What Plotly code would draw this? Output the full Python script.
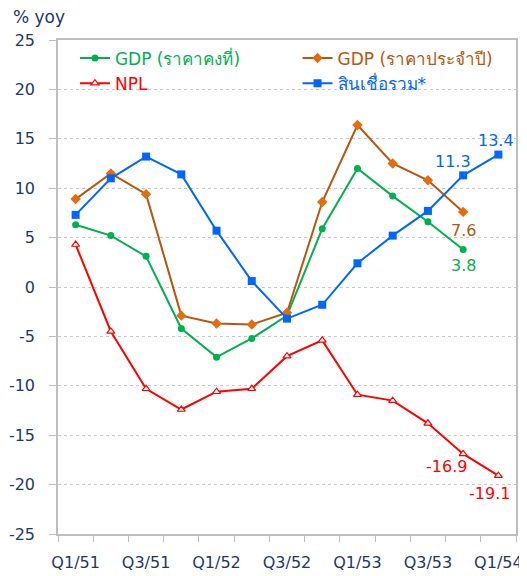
import plotly.graph_objects as go

quarters = ["Q1/51", "Q2/51", "Q3/51", "Q4/51", "Q1/52", "Q2/52", "Q3/52",
            "Q4/52", "Q1/53", "Q2/53", "Q3/53", "Q4/53", "Q1/54"]
gdp_real = [6.3, 5.2, 3.1, -4.2, -7.1, -5.2, -2.9, 5.9, 12.0, 9.2, 6.6, 3.8]
gdp_nominal = [8.9, 11.5, 9.4, -2.9, -3.7, -3.8, -2.6, 8.6, 16.4, 12.5, 10.8, 7.6]
npl = [4.3, -4.5, -10.3, -12.4, -10.6, -10.3, -7.0, -5.4, -10.9, -11.5, -13.8, -16.9, -19.1]
loans = [7.3, 11.0, 13.2, 11.4, 5.7, 0.6, -3.2, -1.8, 2.4, 5.2, 7.7, 11.3, 13.4]

names = ["GDP (ราคาคงที่)", "GDP (ราคาประจำปี)", "NPL", "สินเชื่อรวม*"]
y_ticks = list(range(-25, 30, 5))
y_ticktext = [str(v) for v in y_ticks]

GREEN = "#00B050"
BROWN = "#B8560F"
BROWN_M = "#E46C0A"
RED = "#FF0000"
BLUE = "#0066FF"
NAVY = "#1F3864"
FONT = "DejaVu Sans, Verdana, Noto Sans, sans-serif"

xs = list(range(len(quarters)))

def leg(name, color):
    return f"<span style='color:{color}'>{name}</span>"

fig = go.Figure()
fig.add_trace(go.Scatter(x=xs[:len(gdp_real)], y=gdp_real, mode="lines+markers",
                         name=leg(names[0], GREEN), legend="legend",
                         line=dict(color=GREEN, width=2),
                         marker=dict(symbol="circle", size=7, color=GREEN)))
fig.add_trace(go.Scatter(x=xs[:len(gdp_nominal)], y=gdp_nominal, mode="lines+markers",
                         name=leg(names[1], BROWN), legend="legend2",
                         line=dict(color=BROWN, width=2),
                         marker=dict(symbol="diamond", size=8, color=BROWN_M)))
fig.add_trace(go.Scatter(x=xs, y=npl, mode="lines+markers",
                         name=leg(names[2], RED), legend="legend",
                         line=dict(color=RED, width=2),
                         marker=dict(symbol="triangle-up", size=7, color="white",
                                     line=dict(color=RED, width=1.2))))
fig.add_trace(go.Scatter(x=xs, y=loans, mode="lines+markers",
                         name=leg(names[3], BLUE), legend="legend2",
                         line=dict(color=BLUE, width=2),
                         marker=dict(symbol="square", size=8, color=BLUE)))

# data labels
labels = [
    (11, gdp_real[11], GREEN, 0, -16),
    (11, gdp_nominal[11], BROWN, 0, -19),
    (11, npl[11], RED, -17, -13),
    (12, npl[12], RED, -9, -18),
    (11, loans[11], BLUE, -10, 14),
    (12, loans[12], BLUE, -2, 14),
]
for x, y, c, dx, dy in labels:
    fig.add_annotation(x=x, y=y, text=f"{y:.1f}", showarrow=False,
                       xshift=dx, yshift=dy,
                       font=dict(color=c, size=16, family=FONT))

fig.add_annotation(x=0, y=1, xref="paper", yref="paper", xanchor="left", yanchor="middle",
                   text="% yoy", showarrow=False, xshift=-47, yshift=23,
                   font=dict(color=NAVY, size=17, family=FONT))

legend_common = dict(orientation="v", yanchor="top", xanchor="left",
                     font=dict(size=17, family=FONT), bgcolor="rgba(0,0,0,0)",
                     itemwidth=30, tracegroupgap=0, traceorder="normal")

fig.update_layout(
    width=519, height=568,
    margin=dict(l=50, r=11, t=32, b=42),
    paper_bgcolor="white", plot_bgcolor="white",
    font=dict(family=FONT, color=NAVY, size=16),
    showlegend=True,
    legend=dict(x=0.037, y=0.999, **legend_common),
    legend2=dict(x=0.523, y=0.999, **legend_common),
)
fig.update_xaxes(range=[-0.5, len(quarters) - 0.5], tickmode="array",
                 tickvals=xs[::2], ticktext=quarters[::2], ticks="",
                 showgrid=False, zeroline=False, automargin=False,
                 ticklabelstandoff=13,
                 showline=True, linecolor="#BFBFBF", linewidth=1.5, mirror=True,
                 tickfont=dict(size=16, color=NAVY),
                 minor=dict(tickmode="linear", tick0=-0.5, dtick=1, ticks="outside",
                            ticklen=6, tickcolor="#BFBFBF", showgrid=False))
fig.update_yaxes(range=[-25, 25], tickmode="array", tickvals=y_ticks, ticktext=y_ticktext,
                 ticks="outside", ticklen=7, tickcolor="#BFBFBF", automargin=False,
                 ticklabelstandoff=11,
                 showgrid=True, gridcolor="#C8C8C8", griddash="dot", gridwidth=1,
                 zeroline=False, showline=True, linecolor="#BFBFBF", linewidth=1.5,
                 mirror=True, tickfont=dict(size=16, color=NAVY))

fig.write_html("out.html")
